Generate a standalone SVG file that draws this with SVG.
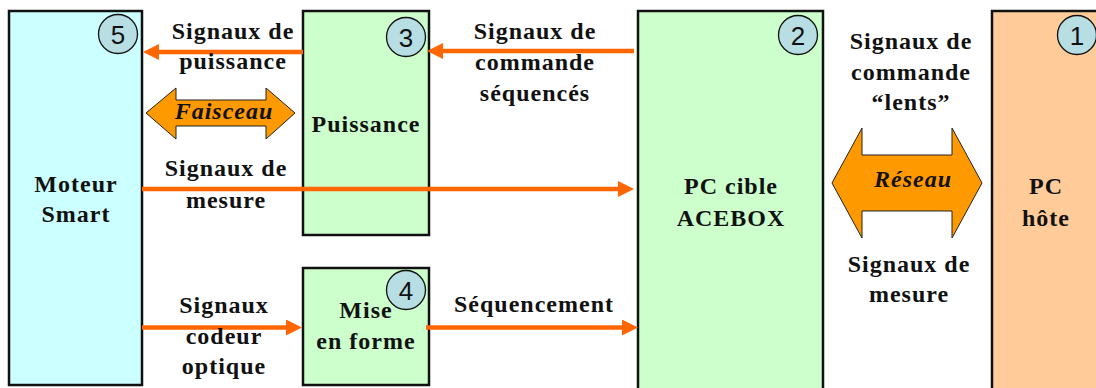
<svg xmlns="http://www.w3.org/2000/svg" width="1096" height="388" viewBox="0 0 1096 388">
<style>
.box{stroke:#111;stroke-width:2.5}
.b5{fill:#CCFFFF}.bg{fill:#CCFFCC}.b1{fill:#FFCC99}
.num circle{fill:#B7DEE3;stroke:#111;stroke-width:1.3}
.num text{font-family:"Liberation Sans",Arial,sans-serif;font-size:26px;fill:#111;text-anchor:middle}
.t{font-family:"Liberation Serif","Times New Roman",serif;font-weight:bold;font-size:24px;letter-spacing:1px;fill:#111;text-anchor:middle}
.i{font-style:italic}
.w{stroke:#FF6600;stroke-width:4.5;fill:none}
.dbl{fill:#FF9900;stroke:#222;stroke-width:1}
</style>
<defs>
<marker id="ah" markerUnits="userSpaceOnUse" markerWidth="18" markerHeight="18" refX="0" refY="8" orient="auto">
<path d="M0,0 L16,8 L0,16 Z" fill="#FF6600"/>
</marker>
</defs>
<rect width="1096" height="388" fill="#fff"/>

<g id="node5">
<rect class="box b5" x="9" y="11" width="133" height="374"/>
<g class="num"><circle cx="118" cy="34" r="19.5"/><text x="118" y="43.5">5</text></g>
<text class="t" x="76" y="192">Moteur</text>
<text class="t" x="76" y="222">Smart</text>
</g>

<g id="node3">
<rect class="box bg" x="303" y="11" width="126" height="224"/>
<g class="num"><circle cx="406" cy="37" r="19.5"/><text x="406" y="46.5">3</text></g>
<text class="t" x="366" y="132">Puissance</text>
</g>

<g id="node4">
<rect class="box bg" x="303" y="268" width="126" height="117"/>
<g class="num"><circle cx="406" cy="290" r="19.5"/><text x="406" y="299.5">4</text></g>
<text class="t" x="366" y="318">Mise</text>
<text class="t" x="366" y="349">en forme</text>
</g>

<g id="node2">
<rect class="box bg" x="638" y="11" width="185" height="395"/>
<g class="num"><circle cx="798" cy="35" r="19.5"/><text x="798" y="44.5">2</text></g>
<text class="t" x="731" y="194">PC cible</text>
<text class="t" x="731" y="226">ACEBOX</text>
</g>

<g id="node1">
<rect class="box b1" x="992" y="11" width="120" height="395"/>
<g class="num"><circle cx="1077" cy="35" r="19.5"/><text x="1077" y="44.5">1</text></g>
<text class="t" x="1046" y="194">PC</text>
<text class="t" x="1046" y="226">hôte</text>
</g>

<g id="connectors">
<line class="w" x1="303" y1="52" x2="159" y2="52" marker-end="url(#ah)"/>
<line class="w" x1="634" y1="51" x2="443" y2="51" marker-end="url(#ah)"/>
<line class="w" x1="142" y1="189" x2="618" y2="189" marker-end="url(#ah)"/>
<line class="w" x1="142" y1="327.5" x2="286" y2="327.5" marker-end="url(#ah)"/>
<line class="w" x1="426" y1="327.5" x2="622" y2="327.5" marker-end="url(#ah)"/>
<path class="dbl" d="M146,113 L176,88 L176,100 L266,100 L266,88 L295,113 L266,139 L266,126 L176,126 L176,139 Z"/>
<path class="dbl" d="M832,183 L862,128 L862,155 L952,155 L952,128 L982,183 L952,238 L952,211 L862,211 L862,238 Z"/>
<text class="t i" x="224" y="119">Faisceau</text>
<text class="t i" x="913" y="187">Réseau</text>
<text class="t" x="233" y="39">Signaux de</text>
<text class="t" x="233" y="69">puissance</text>
<text class="t" x="535" y="39">Signaux de</text>
<text class="t" x="535" y="70">commande</text>
<text class="t" x="535" y="101">séquencés</text>
<text class="t" x="911" y="49">Signaux de</text>
<text class="t" x="911" y="80">commande</text>
<text class="t" x="911" y="110">“lents”</text>
<text class="t" x="226" y="176">Signaux de</text>
<text class="t" x="226" y="208">mesure</text>
<text class="t" x="909" y="272">Signaux de</text>
<text class="t" x="909" y="302">mesure</text>
<text class="t" x="224" y="313">Signaux</text>
<text class="t" x="224" y="344">codeur</text>
<text class="t" x="224" y="374">optique</text>
<text class="t" x="534" y="312">Séquencement</text>
</g>
</svg>
